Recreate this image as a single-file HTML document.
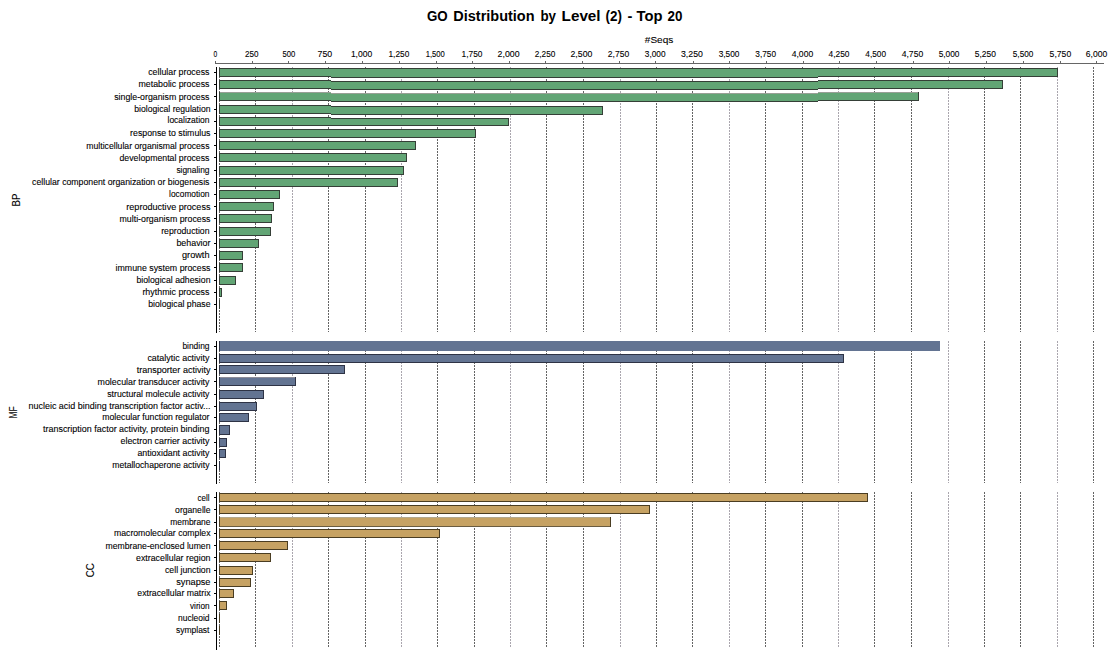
<!DOCTYPE html>
<html><head><meta charset="utf-8"><title>GO Distribution by Level (2) - Top 20</title>
<style>
html,body{margin:0;padding:0;background:#fff;width:1111px;height:656px;overflow:hidden}
svg{display:block}
text{font-family:"Liberation Sans",Arial,sans-serif;fill:#000;stroke:#000;stroke-width:0.1px}
.title text{stroke:none}
</style></head><body>
<svg width="1111" height="656" viewBox="0 0 1111 656">
<rect x="0" y="0" width="1111" height="656" fill="#fff"/>

<g class="title" font-weight="bold">
<text id="title0" x="426.95" y="20.80" font-size="14.5" textLength="20.75" lengthAdjust="spacingAndGlyphs">GO</text>
<text id="title1" x="453.30" y="20.80" font-size="14.5" textLength="81.20" lengthAdjust="spacingAndGlyphs">Distribution</text>
<text id="title2" x="540.40" y="20.80" font-size="14.5" textLength="15.60" lengthAdjust="spacingAndGlyphs">by</text>
<text id="title3" x="561.60" y="20.80" font-size="14.5" textLength="39.00" lengthAdjust="spacingAndGlyphs">Level</text>
<text id="title4" x="605.50" y="20.80" font-size="14.5" textLength="16.40" lengthAdjust="spacingAndGlyphs">(2)</text>
<text id="title5" x="627.60" y="20.80" font-size="14.5" textLength="4.90" lengthAdjust="spacingAndGlyphs">-</text>
<text id="title6" x="636.50" y="20.80" font-size="14.5" textLength="25.90" lengthAdjust="spacingAndGlyphs">Top</text>
<text id="title7" x="667.50" y="20.80" font-size="14.5" textLength="14.90" lengthAdjust="spacingAndGlyphs">20</text>
</g>
<text id="seqs" x="644.80" y="42.70" font-size="9.8" textLength="28.50" lengthAdjust="spacingAndGlyphs">#Seqs</text>
<g shape-rendering="crispEdges">
<rect x="215" y="63" width="889" height="1" fill="#666"/>
<rect x="215" y="61" width="1" height="2" fill="#666"/>
<rect x="252" y="61" width="1" height="2" fill="#666"/>
<rect x="288" y="61" width="1" height="2" fill="#666"/>
<rect x="325" y="61" width="1" height="2" fill="#666"/>
<rect x="362" y="61" width="1" height="2" fill="#666"/>
<rect x="399" y="61" width="1" height="2" fill="#666"/>
<rect x="436" y="61" width="1" height="2" fill="#666"/>
<rect x="472" y="61" width="1" height="2" fill="#666"/>
<rect x="509" y="61" width="1" height="2" fill="#666"/>
<rect x="545" y="61" width="1" height="2" fill="#666"/>
<rect x="582" y="61" width="1" height="2" fill="#666"/>
<rect x="619" y="61" width="1" height="2" fill="#666"/>
<rect x="655" y="61" width="1" height="2" fill="#666"/>
<rect x="693" y="61" width="1" height="2" fill="#666"/>
<rect x="729" y="61" width="1" height="2" fill="#666"/>
<rect x="766" y="61" width="1" height="2" fill="#666"/>
<rect x="803" y="61" width="1" height="2" fill="#666"/>
<rect x="839" y="61" width="1" height="2" fill="#666"/>
<rect x="876" y="61" width="1" height="2" fill="#666"/>
<rect x="913" y="61" width="1" height="2" fill="#666"/>
<rect x="949" y="61" width="1" height="2" fill="#666"/>
<rect x="986" y="61" width="1" height="2" fill="#666"/>
<rect x="1023" y="61" width="1" height="2" fill="#666"/>
<rect x="1060" y="61" width="1" height="2" fill="#666"/>
<rect x="1096" y="61" width="1" height="2" fill="#666"/>
</g>
<text id="ax0" x="213.50" y="57.00" font-size="8.6" textLength="3.70" lengthAdjust="spacingAndGlyphs">0</text>
<text id="ax1" x="244.90" y="57.00" font-size="8.6" textLength="13.50" lengthAdjust="spacingAndGlyphs">250</text>
<text id="ax2" x="282.60" y="57.00" font-size="8.6" textLength="12.80" lengthAdjust="spacingAndGlyphs">500</text>
<text id="ax3" x="317.50" y="57.00" font-size="8.6" textLength="14.70" lengthAdjust="spacingAndGlyphs">750</text>
<text id="ax4" x="350.90" y="57.00" font-size="8.6" textLength="21.30" lengthAdjust="spacingAndGlyphs">1,000</text>
<text id="ax5" x="388.50" y="57.00" font-size="8.6" textLength="20.80" lengthAdjust="spacingAndGlyphs">1,250</text>
<text id="ax6" x="425.70" y="57.00" font-size="8.6" textLength="19.10" lengthAdjust="spacingAndGlyphs">1,500</text>
<text id="ax7" x="461.60" y="57.00" font-size="8.6" textLength="20.90" lengthAdjust="spacingAndGlyphs">1,750</text>
<text id="ax8" x="497.60" y="57.00" font-size="8.6" textLength="22.00" lengthAdjust="spacingAndGlyphs">2,000</text>
<text id="ax9" x="534.70" y="57.00" font-size="8.6" textLength="20.70" lengthAdjust="spacingAndGlyphs">2,250</text>
<text id="ax10" x="570.50" y="57.00" font-size="8.6" textLength="21.90" lengthAdjust="spacingAndGlyphs">2,500</text>
<text id="ax11" x="607.80" y="57.00" font-size="8.6" textLength="21.40" lengthAdjust="spacingAndGlyphs">2,750</text>
<text id="ax12" x="644.80" y="57.00" font-size="8.6" textLength="20.70" lengthAdjust="spacingAndGlyphs">3,000</text>
<text id="ax13" x="681.00" y="57.00" font-size="8.6" textLength="21.90" lengthAdjust="spacingAndGlyphs">3,250</text>
<text id="ax14" x="718.70" y="57.00" font-size="8.6" textLength="20.80" lengthAdjust="spacingAndGlyphs">3,500</text>
<text id="ax15" x="755.30" y="57.00" font-size="8.6" textLength="20.70" lengthAdjust="spacingAndGlyphs">3,750</text>
<text id="ax16" x="791.70" y="57.00" font-size="8.6" textLength="21.50" lengthAdjust="spacingAndGlyphs">4,000</text>
<text id="ax17" x="828.50" y="57.00" font-size="8.6" textLength="21.00" lengthAdjust="spacingAndGlyphs">4,250</text>
<text id="ax18" x="865.30" y="57.00" font-size="8.6" textLength="20.70" lengthAdjust="spacingAndGlyphs">4,500</text>
<text id="ax19" x="901.70" y="57.00" font-size="8.6" textLength="21.50" lengthAdjust="spacingAndGlyphs">4,750</text>
<text id="ax20" x="938.70" y="57.00" font-size="8.6" textLength="20.80" lengthAdjust="spacingAndGlyphs">5,000</text>
<text id="ax21" x="974.80" y="57.00" font-size="8.6" textLength="21.20" lengthAdjust="spacingAndGlyphs">5,250</text>
<text id="ax22" x="1012.80" y="57.00" font-size="8.6" textLength="20.60" lengthAdjust="spacingAndGlyphs">5,500</text>
<text id="ax23" x="1049.60" y="57.00" font-size="8.6" textLength="21.60" lengthAdjust="spacingAndGlyphs">5,750</text>
<text id="ax24" x="1085.80" y="57.00" font-size="8.6" textLength="21.40" lengthAdjust="spacingAndGlyphs">6,000</text>
<g shape-rendering="crispEdges" stroke="#646464" stroke-width="1" stroke-dasharray="2,1">
<line x1="219.5" y1="67" x2="219.5" y2="332"/>
<line x1="255.5" y1="67" x2="255.5" y2="332"/>
<line x1="292.5" y1="67" x2="292.5" y2="332" stroke="#aaa6ae"/>
<line x1="328.5" y1="67" x2="328.5" y2="332"/>
<line x1="365.5" y1="67" x2="365.5" y2="332"/>
<line x1="401.5" y1="67" x2="401.5" y2="332" stroke="#aaa6ae"/>
<line x1="437.5" y1="67" x2="437.5" y2="332"/>
<line x1="474.5" y1="67" x2="474.5" y2="332"/>
<line x1="510.5" y1="67" x2="510.5" y2="332" stroke="#aaa6ae"/>
<line x1="546.5" y1="67" x2="546.5" y2="332"/>
<line x1="583.5" y1="67" x2="583.5" y2="332"/>
<line x1="620.5" y1="67" x2="620.5" y2="332" stroke="#aaa6ae"/>
<line x1="656.5" y1="67" x2="656.5" y2="332"/>
<line x1="692.5" y1="67" x2="692.5" y2="332"/>
<line x1="729.5" y1="67" x2="729.5" y2="332" stroke="#aaa6ae"/>
<line x1="765.5" y1="67" x2="765.5" y2="332"/>
<line x1="802.5" y1="67" x2="802.5" y2="332"/>
<line x1="838.5" y1="67" x2="838.5" y2="332" stroke="#aaa6ae"/>
<line x1="874.5" y1="67" x2="874.5" y2="332"/>
<line x1="911.5" y1="67" x2="911.5" y2="332"/>
<line x1="948.5" y1="67" x2="948.5" y2="332" stroke="#aaa6ae"/>
<line x1="984.5" y1="67" x2="984.5" y2="332"/>
<line x1="1020.5" y1="67" x2="1020.5" y2="332"/>
<line x1="1057.5" y1="67" x2="1057.5" y2="332" stroke="#aaa6ae"/>
<line x1="1093.5" y1="67" x2="1093.5" y2="332"/>
</g>
<rect x="216" y="67" width="1" height="266" fill="#000" shape-rendering="crispEdges"/>
<rect x="214" y="72" width="2" height="1" fill="#000" shape-rendering="crispEdges"/>
<g shape-rendering="crispEdges">
<rect x="219" y="68" width="112.00" height="9" fill="#62a575"/><rect x="219" y="68" width="112.00" height="1" fill="#353f37"/><rect x="219" y="76" width="112.00" height="1" fill="#353f37"/><rect x="219" y="68" width="1" height="9" fill="#353f37"/>
<rect x="331" y="68" width="487.00" height="10" fill="#62a575"/><rect x="331" y="68" width="487.00" height="1" fill="#353f37"/><rect x="331" y="77" width="487.00" height="1" fill="#353f37"/>
<rect x="818" y="68" width="240.00" height="9" fill="#62a575"/><rect x="818" y="68" width="240.00" height="1" fill="#353f37"/><rect x="818" y="76" width="240.00" height="1" fill="#353f37"/><rect x="1057.00" y="68" width="1" height="9" fill="#353f37"/>
</g>
<text id="BP0" x="148.20" y="74.80" font-size="8.4" textLength="61.30" lengthAdjust="spacingAndGlyphs">cellular process</text>
<rect x="214" y="84" width="2" height="1" fill="#000" shape-rendering="crispEdges"/>
<g shape-rendering="crispEdges">
<rect x="219" y="80" width="112.00" height="9" fill="#62a575"/><rect x="219" y="80" width="112.00" height="1" fill="#353f37"/><rect x="219" y="88" width="112.00" height="1" fill="#353f37"/><rect x="219" y="80" width="1" height="9" fill="#353f37"/>
<rect x="331" y="81" width="487.00" height="9" fill="#62a575"/><rect x="331" y="81" width="487.00" height="1" fill="#353f37"/><rect x="331" y="89" width="487.00" height="1" fill="#353f37"/>
<rect x="818" y="80" width="185.00" height="9" fill="#62a575"/><rect x="818" y="80" width="185.00" height="1" fill="#353f37"/><rect x="818" y="88" width="185.00" height="1" fill="#353f37"/><rect x="1002.00" y="80" width="1" height="9" fill="#353f37"/>
</g>
<text id="BP1" x="138.50" y="87.10" font-size="8.4" textLength="71.00" lengthAdjust="spacingAndGlyphs">metabolic process</text>
<rect x="214" y="96" width="2" height="1" fill="#000" shape-rendering="crispEdges"/>
<g shape-rendering="crispEdges">
<rect x="219" y="92" width="112.00" height="9" fill="#62a575"/><rect x="219" y="92" width="112.00" height="1" fill="#98a096"/><rect x="219" y="100" width="112.00" height="1" fill="#353f37"/><rect x="219" y="92" width="1" height="9" fill="#353f37"/>
<rect x="331" y="93" width="487.00" height="9" fill="#62a575"/><rect x="331" y="93" width="487.00" height="1" fill="#98a096"/><rect x="331" y="101" width="487.00" height="1" fill="#353f37"/>
<rect x="818" y="92" width="101.00" height="9" fill="#62a575"/><rect x="818" y="92" width="101.00" height="1" fill="#98a096"/><rect x="818" y="100" width="101.00" height="1" fill="#353f37"/><rect x="918.00" y="92" width="1" height="9" fill="#353f37"/>
</g>
<text id="BP2" x="114.20" y="99.50" font-size="8.4" textLength="95.30" lengthAdjust="spacingAndGlyphs">single-organism process</text>
<rect x="214" y="109" width="2" height="1" fill="#000" shape-rendering="crispEdges"/>
<g shape-rendering="crispEdges">
<rect x="219" y="105" width="112.00" height="9" fill="#62a575"/><rect x="219" y="105" width="112.00" height="1" fill="#353f37"/><rect x="219" y="113" width="112.00" height="1" fill="#353f37"/><rect x="219" y="105" width="1" height="9" fill="#353f37"/>
<rect x="331" y="106" width="272.00" height="9" fill="#62a575"/><rect x="331" y="106" width="272.00" height="1" fill="#353f37"/><rect x="331" y="114" width="272.00" height="1" fill="#353f37"/><rect x="602.00" y="106" width="1" height="9" fill="#353f37"/>
</g>
<text id="BP3" x="134.30" y="112.00" font-size="8.4" textLength="76.20" lengthAdjust="spacingAndGlyphs">biological regulation</text>
<rect x="214" y="121" width="2" height="1" fill="#000" shape-rendering="crispEdges"/>
<g shape-rendering="crispEdges">
<rect x="219" y="117" width="112.00" height="9" fill="#62a575"/><rect x="219" y="117" width="112.00" height="1" fill="#353f37"/><rect x="219" y="125" width="112.00" height="1" fill="#353f37"/><rect x="219" y="117" width="1" height="9" fill="#353f37"/>
<rect x="331" y="118" width="178.00" height="8" fill="#62a575"/><rect x="331" y="118" width="178.00" height="1" fill="#353f37"/><rect x="331" y="125" width="178.00" height="1" fill="#353f37"/><rect x="508.00" y="118" width="1" height="8" fill="#353f37"/>
</g>
<text id="BP4" x="167.50" y="123.40" font-size="8.4" textLength="42.00" lengthAdjust="spacingAndGlyphs">localization</text>
<rect x="214" y="133" width="2" height="1" fill="#000" shape-rendering="crispEdges"/>
<g shape-rendering="crispEdges">
<rect x="219" y="129" width="257.00" height="9" fill="#62a575"/><rect x="219" y="129" width="257.00" height="1" fill="#353f37"/><rect x="219" y="137" width="257.00" height="1" fill="#353f37"/><rect x="219" y="129" width="1" height="9" fill="#353f37"/><rect x="475.00" y="129" width="1" height="9" fill="#353f37"/>
</g>
<text id="BP5" x="130.10" y="135.80" font-size="8.4" textLength="80.40" lengthAdjust="spacingAndGlyphs">response to stimulus</text>
<rect x="214" y="145" width="2" height="1" fill="#000" shape-rendering="crispEdges"/>
<g shape-rendering="crispEdges">
<rect x="219" y="141" width="197.00" height="9" fill="#62a575"/><rect x="219" y="141" width="197.00" height="1" fill="#353f37"/><rect x="219" y="149" width="197.00" height="1" fill="#353f37"/><rect x="219" y="141" width="1" height="9" fill="#353f37"/><rect x="415.00" y="141" width="1" height="9" fill="#353f37"/>
</g>
<text id="BP6" x="86.30" y="148.60" font-size="8.4" textLength="123.20" lengthAdjust="spacingAndGlyphs">multicellular organismal process</text>
<rect x="214" y="157" width="2" height="1" fill="#000" shape-rendering="crispEdges"/>
<g shape-rendering="crispEdges">
<rect x="219" y="153" width="188.00" height="9" fill="#62a575"/><rect x="219" y="153" width="188.00" height="1" fill="#353f37"/><rect x="219" y="161" width="188.00" height="1" fill="#353f37"/><rect x="219" y="153" width="1" height="9" fill="#353f37"/><rect x="406.00" y="153" width="1" height="9" fill="#353f37"/>
</g>
<text id="BP7" x="119.50" y="160.60" font-size="8.4" textLength="90.00" lengthAdjust="spacingAndGlyphs">developmental process</text>
<rect x="214" y="170" width="2" height="1" fill="#000" shape-rendering="crispEdges"/>
<g shape-rendering="crispEdges">
<rect x="219" y="166" width="185.00" height="9" fill="#62a575"/><rect x="219" y="166" width="185.00" height="1" fill="#353f37"/><rect x="219" y="174" width="185.00" height="1" fill="#353f37"/><rect x="219" y="166" width="1" height="9" fill="#353f37"/><rect x="403.00" y="166" width="1" height="9" fill="#353f37"/>
</g>
<text id="BP8" x="176.40" y="172.60" font-size="8.4" textLength="33.10" lengthAdjust="spacingAndGlyphs">signaling</text>
<rect x="214" y="182" width="2" height="1" fill="#000" shape-rendering="crispEdges"/>
<g shape-rendering="crispEdges">
<rect x="219" y="178" width="179.00" height="9" fill="#62a575"/><rect x="219" y="178" width="179.00" height="1" fill="#353f37"/><rect x="219" y="186" width="179.00" height="1" fill="#353f37"/><rect x="219" y="178" width="1" height="9" fill="#353f37"/><rect x="397.00" y="178" width="1" height="9" fill="#353f37"/>
</g>
<text id="BP9" x="32.10" y="184.60" font-size="8.4" textLength="177.40" lengthAdjust="spacingAndGlyphs">cellular component organization or biogenesis</text>
<rect x="214" y="194" width="2" height="1" fill="#000" shape-rendering="crispEdges"/>
<g shape-rendering="crispEdges">
<rect x="219" y="190" width="61.00" height="9" fill="#62a575"/><rect x="219" y="190" width="61.00" height="1" fill="#353f37"/><rect x="219" y="198" width="61.00" height="1" fill="#353f37"/><rect x="219" y="190" width="1" height="9" fill="#353f37"/><rect x="279.00" y="190" width="1" height="9" fill="#353f37"/>
</g>
<text id="BP10" x="169.10" y="196.90" font-size="8.4" textLength="40.40" lengthAdjust="spacingAndGlyphs">locomotion</text>
<rect x="214" y="206" width="2" height="1" fill="#000" shape-rendering="crispEdges"/>
<g shape-rendering="crispEdges">
<rect x="219" y="202" width="55.00" height="9" fill="#62a575"/><rect x="219" y="202" width="55.00" height="1" fill="#353f37"/><rect x="219" y="210" width="55.00" height="1" fill="#353f37"/><rect x="219" y="202" width="1" height="9" fill="#353f37"/><rect x="273.00" y="202" width="1" height="9" fill="#353f37"/>
</g>
<text id="BP11" x="126.30" y="209.60" font-size="8.4" textLength="84.20" lengthAdjust="spacingAndGlyphs">reproductive process</text>
<rect x="214" y="218" width="2" height="1" fill="#000" shape-rendering="crispEdges"/>
<g shape-rendering="crispEdges">
<rect x="219" y="214" width="53.00" height="9" fill="#62a575"/><rect x="219" y="214" width="53.00" height="1" fill="#353f37"/><rect x="219" y="222" width="53.00" height="1" fill="#353f37"/><rect x="219" y="214" width="1" height="9" fill="#353f37"/><rect x="271.00" y="214" width="1" height="9" fill="#353f37"/>
</g>
<text id="BP12" x="119.50" y="221.80" font-size="8.4" textLength="91.00" lengthAdjust="spacingAndGlyphs">multi-organism process</text>
<rect x="214" y="231" width="2" height="1" fill="#000" shape-rendering="crispEdges"/>
<g shape-rendering="crispEdges">
<rect x="219" y="227" width="52.00" height="9" fill="#62a575"/><rect x="219" y="227" width="52.00" height="1" fill="#353f37"/><rect x="219" y="235" width="52.00" height="1" fill="#353f37"/><rect x="219" y="227" width="1" height="9" fill="#353f37"/><rect x="270.00" y="227" width="1" height="9" fill="#353f37"/>
</g>
<text id="BP13" x="161.20" y="233.60" font-size="8.4" textLength="48.30" lengthAdjust="spacingAndGlyphs">reproduction</text>
<rect x="214" y="243" width="2" height="1" fill="#000" shape-rendering="crispEdges"/>
<g shape-rendering="crispEdges">
<rect x="219" y="239" width="40.00" height="9" fill="#62a575"/><rect x="219" y="239" width="40.00" height="1" fill="#353f37"/><rect x="219" y="247" width="40.00" height="1" fill="#353f37"/><rect x="219" y="239" width="1" height="9" fill="#353f37"/><rect x="258.00" y="239" width="1" height="9" fill="#353f37"/>
</g>
<text id="BP14" x="176.40" y="245.80" font-size="8.4" textLength="34.10" lengthAdjust="spacingAndGlyphs">behavior</text>
<rect x="214" y="255" width="2" height="1" fill="#000" shape-rendering="crispEdges"/>
<g shape-rendering="crispEdges">
<rect x="219" y="251" width="24.00" height="9" fill="#62a575"/><rect x="219" y="251" width="24.00" height="1" fill="#353f37"/><rect x="219" y="259" width="24.00" height="1" fill="#353f37"/><rect x="219" y="251" width="1" height="9" fill="#353f37"/><rect x="242.00" y="251" width="1" height="9" fill="#353f37"/>
</g>
<text id="BP15" x="182.00" y="258.40" font-size="8.4" textLength="27.50" lengthAdjust="spacingAndGlyphs">growth</text>
<rect x="214" y="267" width="2" height="1" fill="#000" shape-rendering="crispEdges"/>
<g shape-rendering="crispEdges">
<rect x="219" y="263" width="24.00" height="9" fill="#62a575"/><rect x="219" y="263" width="24.00" height="1" fill="#353f37"/><rect x="219" y="271" width="24.00" height="1" fill="#353f37"/><rect x="219" y="263" width="1" height="9" fill="#353f37"/><rect x="242.00" y="263" width="1" height="9" fill="#353f37"/>
</g>
<text id="BP16" x="115.50" y="270.60" font-size="8.4" textLength="95.00" lengthAdjust="spacingAndGlyphs">immune system process</text>
<rect x="214" y="280" width="2" height="1" fill="#000" shape-rendering="crispEdges"/>
<g shape-rendering="crispEdges">
<rect x="219" y="276" width="17.00" height="9" fill="#62a575"/><rect x="219" y="276" width="17.00" height="1" fill="#353f37"/><rect x="219" y="284" width="17.00" height="1" fill="#353f37"/><rect x="219" y="276" width="1" height="9" fill="#353f37"/><rect x="235.00" y="276" width="1" height="9" fill="#353f37"/>
</g>
<text id="BP17" x="136.40" y="282.80" font-size="8.4" textLength="74.10" lengthAdjust="spacingAndGlyphs">biological adhesion</text>
<rect x="214" y="292" width="2" height="1" fill="#000" shape-rendering="crispEdges"/>
<g shape-rendering="crispEdges">
<rect x="219" y="288" width="3.00" height="9" fill="#62a575"/><rect x="219" y="288" width="3.00" height="1" fill="#353f37"/><rect x="219" y="296" width="3.00" height="1" fill="#353f37"/><rect x="219" y="288" width="1" height="9" fill="#353f37"/><rect x="221.00" y="288" width="1" height="9" fill="#353f37"/>
</g>
<text id="BP18" x="142.40" y="295.10" font-size="8.4" textLength="67.10" lengthAdjust="spacingAndGlyphs">rhythmic process</text>
<rect x="214" y="304" width="2" height="1" fill="#000" shape-rendering="crispEdges"/>
<g shape-rendering="crispEdges">
<rect x="219" y="300" width="1" height="9" fill="#353f37"/>
</g>
<text id="BP19" x="148.20" y="306.80" font-size="8.4" textLength="62.30" lengthAdjust="spacingAndGlyphs">biological phase</text>
<text id="vBP" transform="translate(20.0,200.0) rotate(-90)" x="-6.40" y="0" font-size="11.3" textLength="12.8" lengthAdjust="spacingAndGlyphs">BP</text>
<g shape-rendering="crispEdges" stroke="#646464" stroke-width="1" stroke-dasharray="2,1">
<line x1="219.5" y1="341" x2="219.5" y2="483"/>
<line x1="255.5" y1="341" x2="255.5" y2="483"/>
<line x1="292.5" y1="341" x2="292.5" y2="483" stroke="#aaa6ae"/>
<line x1="328.5" y1="341" x2="328.5" y2="483"/>
<line x1="365.5" y1="341" x2="365.5" y2="483"/>
<line x1="401.5" y1="341" x2="401.5" y2="483" stroke="#aaa6ae"/>
<line x1="437.5" y1="341" x2="437.5" y2="483"/>
<line x1="474.5" y1="341" x2="474.5" y2="483"/>
<line x1="510.5" y1="341" x2="510.5" y2="483" stroke="#aaa6ae"/>
<line x1="546.5" y1="341" x2="546.5" y2="483"/>
<line x1="583.5" y1="341" x2="583.5" y2="483"/>
<line x1="620.5" y1="341" x2="620.5" y2="483" stroke="#aaa6ae"/>
<line x1="656.5" y1="341" x2="656.5" y2="483"/>
<line x1="692.5" y1="341" x2="692.5" y2="483"/>
<line x1="729.5" y1="341" x2="729.5" y2="483" stroke="#aaa6ae"/>
<line x1="765.5" y1="341" x2="765.5" y2="483"/>
<line x1="802.5" y1="341" x2="802.5" y2="483"/>
<line x1="838.5" y1="341" x2="838.5" y2="483" stroke="#aaa6ae"/>
<line x1="874.5" y1="341" x2="874.5" y2="483"/>
<line x1="911.5" y1="341" x2="911.5" y2="483"/>
<line x1="948.5" y1="341" x2="948.5" y2="483" stroke="#aaa6ae"/>
<line x1="984.5" y1="341" x2="984.5" y2="483"/>
<line x1="1020.5" y1="341" x2="1020.5" y2="483"/>
<line x1="1057.5" y1="341" x2="1057.5" y2="483" stroke="#aaa6ae"/>
<line x1="1093.5" y1="341" x2="1093.5" y2="483"/>
</g>
<rect x="216" y="341" width="1" height="143" fill="#000" shape-rendering="crispEdges"/>
<rect x="214" y="346" width="2" height="1" fill="#000" shape-rendering="crispEdges"/>
<g shape-rendering="crispEdges">
<rect x="219" y="341" width="721.00" height="10" fill="#637492"/><rect x="219" y="341" width="1" height="10" fill="#2e3345"/>
</g>
<text id="MF0" x="182.40" y="348.80" font-size="8.4" textLength="27.10" lengthAdjust="spacingAndGlyphs">binding</text>
<rect x="214" y="358" width="2" height="1" fill="#000" shape-rendering="crispEdges"/>
<g shape-rendering="crispEdges">
<rect x="219" y="354" width="625.00" height="9" fill="#637492"/><rect x="219" y="354" width="625.00" height="1" fill="#2e3345"/><rect x="219" y="362" width="625.00" height="1" fill="#2e3345"/><rect x="219" y="354" width="1" height="9" fill="#2e3345"/><rect x="843.00" y="354" width="1" height="9" fill="#2e3345"/>
</g>
<text id="MF1" x="147.40" y="360.90" font-size="8.4" textLength="62.10" lengthAdjust="spacingAndGlyphs">catalytic activity</text>
<rect x="214" y="369" width="2" height="1" fill="#000" shape-rendering="crispEdges"/>
<g shape-rendering="crispEdges">
<rect x="219" y="365" width="126.00" height="9" fill="#637492"/><rect x="219" y="365" width="126.00" height="1" fill="#2e3345"/><rect x="219" y="373" width="126.00" height="1" fill="#2e3345"/><rect x="219" y="365" width="1" height="9" fill="#2e3345"/><rect x="344.00" y="365" width="1" height="9" fill="#2e3345"/>
</g>
<text id="MF2" x="136.70" y="372.70" font-size="8.4" textLength="73.80" lengthAdjust="spacingAndGlyphs">transporter activity</text>
<rect x="214" y="381" width="2" height="1" fill="#000" shape-rendering="crispEdges"/>
<g shape-rendering="crispEdges">
<rect x="219" y="377" width="77.00" height="9" fill="#637492"/><rect x="219" y="377" width="77.00" height="1" fill="#8c8c98"/><rect x="219" y="385" width="77.00" height="1" fill="#2e3345"/><rect x="219" y="377" width="1" height="9" fill="#2e3345"/><rect x="295.00" y="377" width="1" height="9" fill="#2e3345"/>
</g>
<text id="MF3" x="97.60" y="384.70" font-size="8.4" textLength="111.90" lengthAdjust="spacingAndGlyphs">molecular transducer activity</text>
<rect x="214" y="394" width="2" height="1" fill="#000" shape-rendering="crispEdges"/>
<g shape-rendering="crispEdges">
<rect x="219" y="390" width="45.00" height="9" fill="#637492"/><rect x="219" y="390" width="45.00" height="1" fill="#2e3345"/><rect x="219" y="398" width="45.00" height="1" fill="#2e3345"/><rect x="219" y="390" width="1" height="9" fill="#2e3345"/><rect x="263.00" y="390" width="1" height="9" fill="#2e3345"/>
</g>
<text id="MF4" x="107.20" y="396.70" font-size="8.4" textLength="102.30" lengthAdjust="spacingAndGlyphs">structural molecule activity</text>
<rect x="214" y="406" width="2" height="1" fill="#000" shape-rendering="crispEdges"/>
<g shape-rendering="crispEdges">
<rect x="219" y="402" width="38.00" height="9" fill="#637492"/><rect x="219" y="402" width="38.00" height="1" fill="#2e3345"/><rect x="219" y="410" width="38.00" height="1" fill="#2e3345"/><rect x="219" y="402" width="1" height="9" fill="#2e3345"/><rect x="256.00" y="402" width="1" height="9" fill="#2e3345"/>
</g>
<text id="MF5" x="28.50" y="409.00" font-size="8.4" textLength="182.00" lengthAdjust="spacingAndGlyphs">nucleic acid binding transcription factor activ...</text>
<rect x="214" y="417" width="2" height="1" fill="#000" shape-rendering="crispEdges"/>
<g shape-rendering="crispEdges">
<rect x="219" y="413" width="30.00" height="9" fill="#637492"/><rect x="219" y="413" width="30.00" height="1" fill="#2e3345"/><rect x="219" y="421" width="30.00" height="1" fill="#2e3345"/><rect x="219" y="413" width="1" height="9" fill="#2e3345"/><rect x="248.00" y="413" width="1" height="9" fill="#2e3345"/>
</g>
<text id="MF6" x="102.30" y="420.30" font-size="8.4" textLength="107.20" lengthAdjust="spacingAndGlyphs">molecular function regulator</text>
<rect x="214" y="429" width="2" height="1" fill="#000" shape-rendering="crispEdges"/>
<g shape-rendering="crispEdges">
<rect x="219" y="425" width="11.00" height="10" fill="#637492"/><rect x="219" y="425" width="11.00" height="1" fill="#2e3345"/><rect x="219" y="434" width="11.00" height="1" fill="#2e3345"/><rect x="219" y="425" width="1" height="10" fill="#2e3345"/><rect x="229.00" y="425" width="1" height="10" fill="#2e3345"/>
</g>
<text id="MF7" x="43.00" y="431.80" font-size="8.4" textLength="166.50" lengthAdjust="spacingAndGlyphs">transcription factor activity, protein binding</text>
<rect x="214" y="442" width="2" height="1" fill="#000" shape-rendering="crispEdges"/>
<g shape-rendering="crispEdges">
<rect x="219" y="438" width="8.00" height="9" fill="#637492"/><rect x="219" y="438" width="8.00" height="1" fill="#2e3345"/><rect x="219" y="446" width="8.00" height="1" fill="#2e3345"/><rect x="219" y="438" width="1" height="9" fill="#2e3345"/><rect x="226.00" y="438" width="1" height="9" fill="#2e3345"/>
</g>
<text id="MF8" x="120.50" y="444.40" font-size="8.4" textLength="89.00" lengthAdjust="spacingAndGlyphs">electron carrier activity</text>
<rect x="214" y="453" width="2" height="1" fill="#000" shape-rendering="crispEdges"/>
<g shape-rendering="crispEdges">
<rect x="219" y="449" width="7.00" height="9" fill="#637492"/><rect x="219" y="449" width="7.00" height="1" fill="#2e3345"/><rect x="219" y="457" width="7.00" height="1" fill="#2e3345"/><rect x="219" y="449" width="1" height="9" fill="#2e3345"/><rect x="225.00" y="449" width="1" height="9" fill="#2e3345"/>
</g>
<text id="MF9" x="137.40" y="456.20" font-size="8.4" textLength="72.10" lengthAdjust="spacingAndGlyphs">antioxidant activity</text>
<rect x="214" y="465" width="2" height="1" fill="#000" shape-rendering="crispEdges"/>
<g shape-rendering="crispEdges">
<rect x="219" y="461" width="1" height="9" fill="#2e3345"/>
</g>
<text id="MF10" x="112.30" y="468.30" font-size="8.4" textLength="97.20" lengthAdjust="spacingAndGlyphs">metallochaperone activity</text>
<text id="vMF" transform="translate(17.1,412.5) rotate(-90)" x="-6.00" y="0" font-size="11.3" textLength="12.0" lengthAdjust="spacingAndGlyphs">MF</text>
<g shape-rendering="crispEdges" stroke="#646464" stroke-width="1" stroke-dasharray="2,1">
<line x1="219.5" y1="492" x2="219.5" y2="648"/>
<line x1="255.5" y1="492" x2="255.5" y2="648"/>
<line x1="292.5" y1="492" x2="292.5" y2="648" stroke="#aaa6ae"/>
<line x1="328.5" y1="492" x2="328.5" y2="648"/>
<line x1="365.5" y1="492" x2="365.5" y2="648"/>
<line x1="401.5" y1="492" x2="401.5" y2="648" stroke="#aaa6ae"/>
<line x1="437.5" y1="492" x2="437.5" y2="648"/>
<line x1="474.5" y1="492" x2="474.5" y2="648"/>
<line x1="510.5" y1="492" x2="510.5" y2="648" stroke="#aaa6ae"/>
<line x1="546.5" y1="492" x2="546.5" y2="648"/>
<line x1="583.5" y1="492" x2="583.5" y2="648"/>
<line x1="620.5" y1="492" x2="620.5" y2="648" stroke="#aaa6ae"/>
<line x1="656.5" y1="492" x2="656.5" y2="648"/>
<line x1="692.5" y1="492" x2="692.5" y2="648"/>
<line x1="729.5" y1="492" x2="729.5" y2="648" stroke="#aaa6ae"/>
<line x1="765.5" y1="492" x2="765.5" y2="648"/>
<line x1="802.5" y1="492" x2="802.5" y2="648"/>
<line x1="838.5" y1="492" x2="838.5" y2="648" stroke="#aaa6ae"/>
<line x1="874.5" y1="492" x2="874.5" y2="648"/>
<line x1="911.5" y1="492" x2="911.5" y2="648"/>
<line x1="948.5" y1="492" x2="948.5" y2="648" stroke="#aaa6ae"/>
<line x1="984.5" y1="492" x2="984.5" y2="648"/>
<line x1="1020.5" y1="492" x2="1020.5" y2="648"/>
<line x1="1057.5" y1="492" x2="1057.5" y2="648" stroke="#aaa6ae"/>
<line x1="1093.5" y1="492" x2="1093.5" y2="648"/>
</g>
<rect x="216" y="492" width="1" height="158" fill="#000" shape-rendering="crispEdges"/>
<rect x="214" y="497" width="2" height="1" fill="#000" shape-rendering="crispEdges"/>
<g shape-rendering="crispEdges">
<rect x="219" y="493" width="649.00" height="9" fill="#c6a263"/><rect x="219" y="493" width="649.00" height="1" fill="#4a3d22"/><rect x="219" y="501" width="649.00" height="1" fill="#4a3d22"/><rect x="219" y="493" width="1" height="9" fill="#4a3d22"/><rect x="867.00" y="493" width="1" height="9" fill="#4a3d22"/>
</g>
<text id="CC0" x="197.40" y="500.60" font-size="8.4" textLength="12.10" lengthAdjust="spacingAndGlyphs">cell</text>
<rect x="214" y="509" width="2" height="1" fill="#000" shape-rendering="crispEdges"/>
<g shape-rendering="crispEdges">
<rect x="219" y="505" width="431.00" height="9" fill="#c6a263"/><rect x="219" y="505" width="431.00" height="1" fill="#4a3d22"/><rect x="219" y="513" width="431.00" height="1" fill="#4a3d22"/><rect x="219" y="505" width="1" height="9" fill="#4a3d22"/><rect x="649.00" y="505" width="1" height="9" fill="#4a3d22"/>
</g>
<text id="CC1" x="175.10" y="512.90" font-size="8.4" textLength="35.40" lengthAdjust="spacingAndGlyphs">organelle</text>
<rect x="214" y="522" width="2" height="1" fill="#000" shape-rendering="crispEdges"/>
<g shape-rendering="crispEdges">
<rect x="219" y="517" width="392.00" height="10" fill="#c6a263"/><rect x="219" y="517" width="392.00" height="1" fill="#b4a88c"/><rect x="219" y="526" width="392.00" height="1" fill="#6a5c40"/><rect x="219" y="517" width="1" height="10" fill="#4a3d22"/><rect x="610.00" y="517" width="1" height="10" fill="#4a3d22"/>
</g>
<text id="CC2" x="170.20" y="524.80" font-size="8.4" textLength="40.30" lengthAdjust="spacingAndGlyphs">membrane</text>
<rect x="214" y="533" width="2" height="1" fill="#000" shape-rendering="crispEdges"/>
<g shape-rendering="crispEdges">
<rect x="219" y="529" width="221.00" height="9" fill="#c6a263"/><rect x="219" y="529" width="221.00" height="1" fill="#4a3d22"/><rect x="219" y="537" width="221.00" height="1" fill="#4a3d22"/><rect x="219" y="529" width="1" height="9" fill="#4a3d22"/><rect x="439.00" y="529" width="1" height="9" fill="#4a3d22"/>
</g>
<text id="CC3" x="114.00" y="535.60" font-size="8.4" textLength="96.50" lengthAdjust="spacingAndGlyphs">macromolecular complex</text>
<rect x="214" y="545" width="2" height="1" fill="#000" shape-rendering="crispEdges"/>
<g shape-rendering="crispEdges">
<rect x="219" y="541" width="69.00" height="9" fill="#c6a263"/><rect x="219" y="541" width="69.00" height="1" fill="#4a3d22"/><rect x="219" y="549" width="69.00" height="1" fill="#4a3d22"/><rect x="219" y="541" width="1" height="9" fill="#4a3d22"/><rect x="287.00" y="541" width="1" height="9" fill="#4a3d22"/>
</g>
<text id="CC4" x="105.50" y="548.60" font-size="8.4" textLength="105.00" lengthAdjust="spacingAndGlyphs">membrane-enclosed lumen</text>
<rect x="214" y="557" width="2" height="1" fill="#000" shape-rendering="crispEdges"/>
<g shape-rendering="crispEdges">
<rect x="219" y="553" width="52.00" height="9" fill="#c6a263"/><rect x="219" y="553" width="52.00" height="1" fill="#4a3d22"/><rect x="219" y="561" width="52.00" height="1" fill="#4a3d22"/><rect x="219" y="553" width="1" height="9" fill="#4a3d22"/><rect x="270.00" y="553" width="1" height="9" fill="#4a3d22"/>
</g>
<text id="CC5" x="136.00" y="560.90" font-size="8.4" textLength="74.50" lengthAdjust="spacingAndGlyphs">extracellular region</text>
<rect x="214" y="570" width="2" height="1" fill="#000" shape-rendering="crispEdges"/>
<g shape-rendering="crispEdges">
<rect x="219" y="566" width="34.00" height="9" fill="#c6a263"/><rect x="219" y="566" width="34.00" height="1" fill="#4a3d22"/><rect x="219" y="574" width="34.00" height="1" fill="#4a3d22"/><rect x="219" y="566" width="1" height="9" fill="#4a3d22"/><rect x="252.00" y="566" width="1" height="9" fill="#4a3d22"/>
</g>
<text id="CC6" x="165.00" y="572.80" font-size="8.4" textLength="45.50" lengthAdjust="spacingAndGlyphs">cell junction</text>
<rect x="214" y="582" width="2" height="1" fill="#000" shape-rendering="crispEdges"/>
<g shape-rendering="crispEdges">
<rect x="219" y="578" width="32.00" height="9" fill="#c6a263"/><rect x="219" y="578" width="32.00" height="1" fill="#4a3d22"/><rect x="219" y="586" width="32.00" height="1" fill="#4a3d22"/><rect x="219" y="578" width="1" height="9" fill="#4a3d22"/><rect x="250.00" y="578" width="1" height="9" fill="#4a3d22"/>
</g>
<text id="CC7" x="176.20" y="584.70" font-size="8.4" textLength="34.30" lengthAdjust="spacingAndGlyphs">synapse</text>
<rect x="214" y="593" width="2" height="1" fill="#000" shape-rendering="crispEdges"/>
<g shape-rendering="crispEdges">
<rect x="219" y="589" width="15.00" height="9" fill="#c6a263"/><rect x="219" y="589" width="15.00" height="1" fill="#4a3d22"/><rect x="219" y="597" width="15.00" height="1" fill="#4a3d22"/><rect x="219" y="589" width="1" height="9" fill="#4a3d22"/><rect x="233.00" y="589" width="1" height="9" fill="#4a3d22"/>
</g>
<text id="CC8" x="137.30" y="595.50" font-size="8.4" textLength="73.20" lengthAdjust="spacingAndGlyphs">extracellular matrix</text>
<rect x="214" y="605" width="2" height="1" fill="#000" shape-rendering="crispEdges"/>
<g shape-rendering="crispEdges">
<rect x="219" y="601" width="8.00" height="9" fill="#c6a263"/><rect x="219" y="601" width="8.00" height="1" fill="#4a3d22"/><rect x="219" y="609" width="8.00" height="1" fill="#4a3d22"/><rect x="219" y="601" width="1" height="9" fill="#4a3d22"/><rect x="226.00" y="601" width="1" height="9" fill="#4a3d22"/>
</g>
<text id="CC9" x="190.00" y="609.00" font-size="8.4" textLength="19.50" lengthAdjust="spacingAndGlyphs">virion</text>
<rect x="214" y="618" width="2" height="1" fill="#000" shape-rendering="crispEdges"/>
<g shape-rendering="crispEdges">
<rect x="219" y="614" width="1" height="9" fill="#4a3d22"/>
</g>
<text id="CC10" x="178.00" y="620.50" font-size="8.4" textLength="31.50" lengthAdjust="spacingAndGlyphs">nucleoid</text>
<rect x="214" y="630" width="2" height="1" fill="#000" shape-rendering="crispEdges"/>
<g shape-rendering="crispEdges">
<rect x="219" y="626" width="1" height="9" fill="#4a3d22"/>
</g>
<text id="CC11" x="175.90" y="632.80" font-size="8.4" textLength="33.60" lengthAdjust="spacingAndGlyphs">symplast</text>
<text id="vCC" transform="translate(93.8,570.35) rotate(-90)" x="-7.00" y="0" font-size="11.3" textLength="14.0" lengthAdjust="spacingAndGlyphs">CC</text>
</svg></body></html>
